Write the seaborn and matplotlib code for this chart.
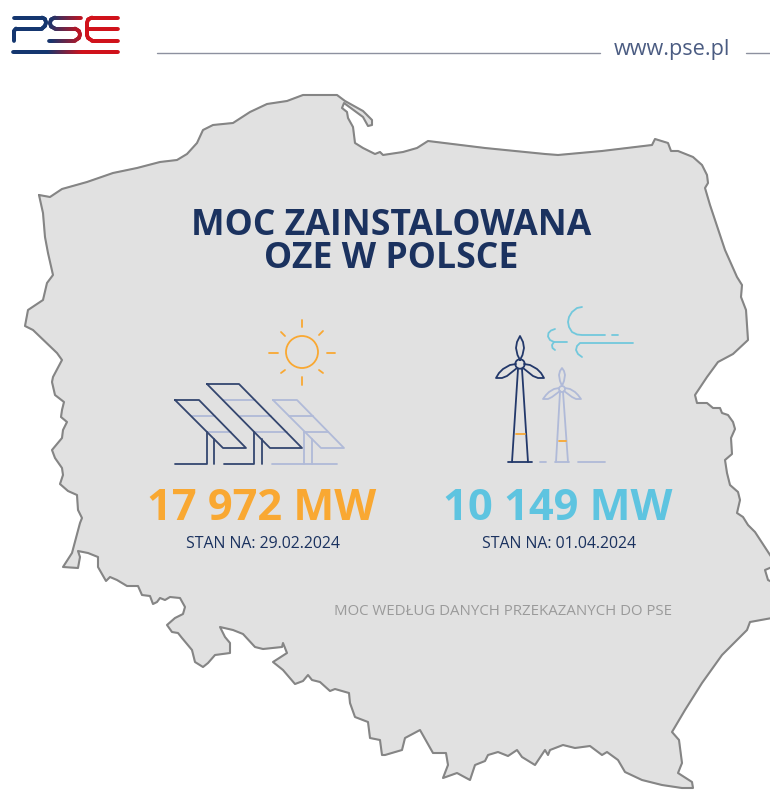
"""
PSE infographic: installed renewable capacity in Poland, drawn on a map outline
"""

import matplotlib.pyplot as plt
import numpy as np
import seaborn as sns
from matplotlib.collections import LineCollection

# Map outline in pixels, clockwise from the north west corner
border_north = [
    (39, 195), (50, 197), (62, 189), (87, 182), (113, 173), (137, 168), (160, 162), (177, 160),
    (187, 154), (197, 143), (203, 130), (213, 125), (233, 123), (250, 112), (267, 104), (287, 101),
    (303, 95), (337, 95), (345, 101), (363, 111), (372, 120), (372, 125), (368, 126), (363, 117),
    (344, 103), (342, 108), (347, 112), (348, 118), (353, 127), (355, 143), (363, 148), (375, 154),
    (380, 152), (383, 155), (403, 152), (417, 148), (428, 141), (485, 148), (545, 154), (558, 155),
    (602, 151), (652, 145), (655, 139), (668, 143), (671, 151), (678, 151), (693, 157), (702, 165),
    (707, 175), (708, 183), (705, 188), (710, 205), (715, 220), (725, 250), (737, 277), (742, 285),
    (741, 297), (746, 310), (748, 340),
]
border_east = [
    (733, 354), (718, 362), (707, 377), (695, 395), (697, 403), (707, 403), (713, 408), (720, 408),
    (722, 413), (728, 415), (733, 422), (735, 429), (731, 438), (732, 454), (725, 460), (727, 473),
    (730, 485), (738, 492), (740, 500), (737, 513), (743, 517), (748, 525), (755, 532), (772, 558),
    (772, 567), (765, 570), (768, 580), (772, 582), (772, 618), (750, 622), (747, 630), (722, 655),
    (702, 683), (685, 710), (672, 732), (679, 740), (682, 763), (678, 773), (692, 782), (693, 788),
]
border_south = [
    (682, 788), (662, 785), (642, 780), (625, 772), (618, 760), (607, 752), (602, 755), (590, 746),
    (575, 748), (563, 745), (550, 750), (548, 755), (545, 750), (535, 765), (522, 757), (517, 750),
    (508, 756), (498, 752), (488, 755), (485, 761), (475, 765), (470, 780), (457, 773), (443, 778),
    (448, 765), (446, 753), (433, 753), (420, 730), (405, 738), (402, 750), (385, 755), (382, 755),
    (380, 740), (370, 738), (368, 722), (355, 717), (350, 703), (349, 693), (335, 689), (330, 691),
    (320, 682), (312, 680), (308, 675), (303, 681), (295, 684), (283, 670), (273, 662), (287, 653),
    (283, 643), (282, 647), (263, 649), (255, 647), (243, 634), (233, 630), (220, 627), (225, 637),
    (230, 643), (230, 653), (215, 655), (208, 663), (203, 667), (195, 662), (192, 650), (182, 638),
    (178, 633), (172, 632), (167, 625), (175, 618), (183, 614), (185, 607), (180, 598), (170, 597),
    (165, 600), (160, 598), (157, 602), (153, 604), (150, 596), (142, 595), (138, 586), (127, 586),
    (117, 580), (110, 577), (106, 581), (98, 567), (98, 557), (88, 553), (78, 551), (80, 557),
    (78, 568), (63, 567), (72, 553), (80, 523), (82, 518), (78, 510),
]
border_west = [
    (77, 495), (68, 491), (60, 484), (63, 475), (62, 468), (55, 458), (52, 450), (62, 438),
    (63, 430), (67, 422), (61, 417), (62, 410), (64, 402), (55, 395), (52, 382), (53, 377),
    (62, 360), (57, 353), (33, 330), (25, 326), (28, 310), (43, 300), (47, 283), (53, 275),
    (48, 253), (45, 237), (43, 213), (39, 195),
]

# Texts
title_lines = ['MOC ZAINSTALOWANA', 'OZE W POLSCE']
solar_value = '17 972 MW'
wind_value = '10 149 MW'
solar_date = 'STAN NA: 29.02.2024'
wind_date = 'STAN NA: 01.04.2024'
source_note = 'MOC WEDŁUG DANYCH PRZEKAZANYCH DO PSE'
website = 'www.pse.pl'

# Colours
NAVY = '#1b325f'
PANEL_DARK = '#34466f'
PANEL_LIGHT = '#b0bad8'
ORANGE = '#f9a832'
BLUE = '#5ec4e0'
WIND_LINE = '#72c8dc'
MAP_FILL = '#e1e1e1'
MAP_EDGE = '#858585'

# Logo strokes
logo_strokes = [
    [(14, 17.5), (42, 17.5), (45, 19), (46, 22.5), (45, 26), (42, 28.5), (16, 28.5), (14, 31), (14, 41)],
    [(81, 17.5), (55, 17.5), (51, 19.5), (50, 23), (51, 26.5), (55, 28.5), (75, 28.5), (79, 31),
     (80, 34.5), (79, 38), (75, 40.5), (49, 40.5)],
    [(118, 17.5), (92, 17.5), (88, 19.5), (87, 23), (87, 35), (88, 38), (92, 40.5), (118, 40.5)],
    [(88, 29), (118, 29)],
    [(13, 52), (118, 52)],
]

# Solar icon
sun_centre = (302, 352)
sun_rays = [
    [(302, 320), (302, 327)], [(302, 377), (302, 385)], [(269, 352.5), (278, 352.5)],
    [(327, 352.5), (335, 352.5)], [(281, 332), (285, 336)], [(323, 331), (319, 335)],
    [(281, 373), (285, 370)], [(323, 373), (319, 370)],
]
panels_light = [
    [(273, 400), (297, 400), (344, 448), (321, 448), (273, 400)],
    [(289, 416), (313, 416)], [(304, 432), (328, 432)],
    [(304, 432), (304, 464)], [(312, 439), (312, 464)], [(272, 464), (337, 464)],
    [(192, 416), (215, 416)], [(207, 432), (231, 432)],
    [(223, 400), (255, 400)], [(240, 416), (271, 416)], [(255, 432), (287, 432)],
]
panels_dark = [
    [(175, 400), (199, 400), (246, 448), (223, 448), (175, 400)],
    [(207, 432), (207, 464), (175, 464)], [(214, 439), (214, 464)],
    [(207, 384), (239, 384), (302, 448), (270, 448), (207, 384)],
    [(254, 432), (254, 464), (224, 464)], [(262, 439), (262, 464)],
]

# Wind icon
wind_curves = [
    [(582, 307), (577, 308), (572, 312), (569, 317), (568, 322), (569, 327), (572, 332), (577, 334.5),
     (582, 335), (605, 335)],
    [(612, 335), (618, 335)],
    [(633, 343), (580, 343), (577, 346), (576, 350), (578, 354), (582, 357)],
    [(555, 329), (551, 330.5), (548.5, 333), (548, 336.5), (550, 340), (554, 342), (567, 342)],
    [(554, 342), (552, 345), (552.5, 348), (555, 350)],
]
turbine_dark = [
    [(518, 369), (512, 462)], [(522, 369), (528, 462)], [(508, 462), (532, 462)],
    [(520, 360), (517.5, 355), (516, 348), (517, 342), (520, 336), (523, 342), (524, 348), (522.5, 355), (520, 360)],
    [(516, 364), (510, 365), (503, 369), (499, 373), (496, 378), (502, 378), (507, 376), (512, 372), (517, 368)],
    [(524, 364), (530, 365), (537, 369), (541, 373), (544, 378), (538, 378), (533, 376), (528, 372), (523, 368)],
]
turbine_light = [
    [(560, 392), (556, 462)], [(563, 392), (568, 462)],
    [(540, 462), (546, 462)], [(555, 462), (569, 462)], [(578, 462), (605, 462)],
    [(562, 386), (560, 381), (559, 375), (560, 371), (562, 368), (564, 371), (565, 375), (564, 381), (562, 386)],
    [(559, 388), (554, 389), (549, 392), (546, 395), (543, 399), (548, 399), (552, 397), (556, 394), (560, 391)],
    [(565, 388), (570, 389), (575, 392), (578, 395), (581, 399), (576, 399), (572, 397), (568, 394), (564, 391)],
]
tower_bands = [[(516, 434), (525, 434)], [(559, 441), (566, 441)]]

sns.set_theme(style='white')
plt.rcParams['font.family'] = ['Open Sans', 'DejaVu Sans']

fig = plt.figure(figsize=(7.7, 7.9), dpi=100, facecolor='white')
ax = fig.add_axes([0, 0, 1, 1])
ax.set_xlim(0, 770)
ax.set_ylim(790, 0)
ax.axis('off')


def stroke(points, color, lw=1.3, zorder=3):
    xs = [p[0] for p in points]
    ys = [p[1] for p in points]
    sns.lineplot(x=xs, y=ys, sort=False, estimator=None, color=color, linewidth=lw,
                 solid_capstyle='round', solid_joinstyle='round', zorder=zorder, ax=ax)


def ring(centre, radius, color, lw=1.3):
    ax.add_patch(plt.Circle(centre, radius, fill=False, edgecolor=color, linewidth=lw, zorder=4))


# Map
outline = border_north + border_east + border_south + border_west
ax.fill([p[0] for p in outline], [p[1] for p in outline], color=MAP_FILL, zorder=1)
stroke(outline, MAP_EDGE, lw=1.5, zorder=2)

# Header
stroke([(157, 53), (600, 53)], '#8d919f', lw=1.0)
stroke([(746, 53), (770, 53)], '#8d919f', lw=1.0)
ax.text(672, 55, website, fontsize=15.6, color='#4b5c82', ha='center', va='baseline')

# Logo with its navy to red gradient
logo_palette = sns.blend_palette(['#14366f', '#14366f', '#d0121b', '#d0121b'], n_colors=106)
for strokes in logo_strokes:
    pts = []
    for (x0, y0), (x1, y1) in zip(strokes[:-1], strokes[1:]):
        n = max(int(abs(x1 - x0) + abs(y1 - y0)), 1) + 1
        pts.extend(zip(np.linspace(x0, x1, n), np.linspace(y0, y1, n)))
    segs = [[a, b] for a, b in zip(pts[:-1], pts[1:])]
    seg_colors = [logo_palette[int(np.clip((a[0] + b[0]) / 2 - 13, 0, 105))] for a, b in segs]
    ax.add_collection(LineCollection(segs, colors=seg_colors, linewidths=2.7, capstyle='round', zorder=3))

# Title
ax.text(391, 235, title_lines[0], fontsize=25.6, fontweight='bold', color=NAVY, ha='center', va='baseline')
ax.text(391, 268, title_lines[1], fontsize=25.6, fontweight='bold', color=NAVY, ha='center', va='baseline')

# Solar icon
ring(sun_centre, 16, ORANGE)
for ray in sun_rays:
    stroke(ray, ORANGE)
for part in panels_light:
    stroke(part, PANEL_LIGHT)
for part in panels_dark:
    stroke(part, PANEL_DARK)

# Wind icon
for part in wind_curves:
    stroke(part, WIND_LINE)
for part in turbine_light:
    stroke(part, PANEL_LIGHT)
ring((562, 389), 3, PANEL_LIGHT)
for part in turbine_dark:
    stroke(part, '#22386a')
ring((520, 364), 4.7, '#22386a')
for part in tower_bands:
    stroke(part, ORANGE)

# Values
ax.text(262, 520, solar_value, fontsize=31.2, fontweight='bold', color=ORANGE, ha='center', va='baseline')
ax.text(558, 520, wind_value, fontsize=31.2, fontweight='bold', color=BLUE, ha='center', va='baseline')
ax.text(263, 548, solar_date, fontsize=11.4, color=NAVY, ha='center', va='baseline')
ax.text(559, 548, wind_date, fontsize=11.4, color=NAVY, ha='center', va='baseline')
ax.text(672, 615, source_note, fontsize=10.8, color='#9a9a9a', ha='right', va='baseline')

fig.savefig('out.png', dpi=100, facecolor='white')
